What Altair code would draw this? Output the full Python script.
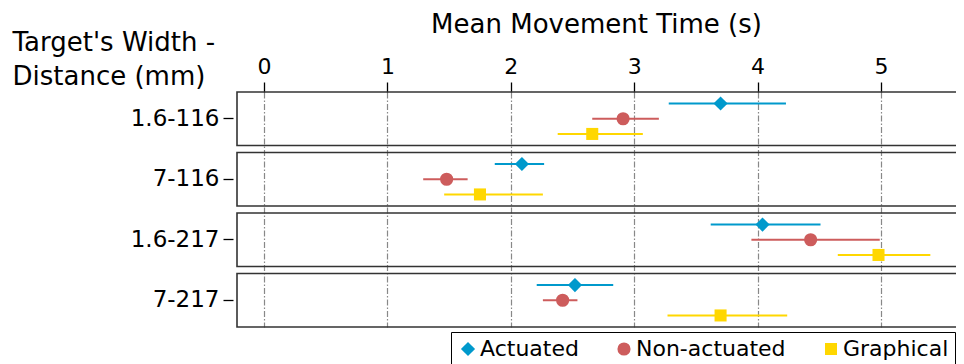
import altair as alt
import pandas as pd

groups = ["1.6-116", "7-116", "1.6-217", "7-217"]
series = ["Actuated", "Non-actuated", "Graphical"]
colors = ["#0099CC", "#CD5C5C", "#FFD700"]
shapes = ["diamond", "circle", "square"]
sizes = [200, 145, 200]

act_mean = [3.70, 2.09, 4.04, 2.52]
act_lo = [3.28, 1.87, 3.62, 2.21]
act_hi = [4.23, 2.27, 4.51, 2.83]

non_mean = [2.91, 1.48, 4.43, 2.42]
non_lo = [2.66, 1.29, 3.95, 2.26]
non_hi = [3.20, 1.65, 4.99, 2.54]

gra_mean = [2.66, 1.75, 4.98, 3.70]
gra_lo = [2.38, 1.46, 4.65, 3.27]
gra_hi = [3.07, 2.26, 5.40, 4.24]

x_ticks = [0, 1, 2, 3, 4, 5]

rows = []
for s, m, lo, hi in [
    ("Actuated", act_mean, act_lo, act_hi),
    ("Non-actuated", non_mean, non_lo, non_hi),
    ("Graphical", gra_mean, gra_lo, gra_hi),
]:
    for g, mv, l, h in zip(groups, m, lo, hi):
        rows.append({"group": g, "series": s, "mean": mv, "lo": l, "hi": h})
df = pd.DataFrame(rows)
box_df = pd.DataFrame({"group": groups})

FONT = "DejaVu Sans"

xscale = alt.Scale(domain=[-0.219, 5.608], nice=False, zero=False)
xaxis = alt.Axis(
    orient="top",
    values=x_ticks,
    format="d",
    title="Mean Movement Time (s)",
    titleFontSize=26,
    titleFontWeight="normal",
    titleColor="black",
    titleFont=FONT,
    titleX=359,
    titleY=-60,
    titleAlign="center",
    titleBaseline="alphabetic",
    labelFontSize=22,
    labelFont=FONT,
    labelColor="black",
    labelBaseline="alphabetic",
    labelPadding=9,
    tickSize=10,
    tickColor="black",
    tickWidth=1.3,
    domain=False,
    grid=True,
    gridColor="#888888",
    gridDash=[6, 2, 1.5, 2],
    gridWidth=1.2,
)

yscale = alt.Scale(domain=groups, paddingInner=0.116, paddingOuter=0)
yaxis = alt.Axis(
    orient="left",
    title=["Target's Width -", "Distance (mm)"],
    titleAngle=0,
    titleAlign="left",
    titleBaseline="alphabetic",
    titleX=-221,
    titleY=-42,
    titleFontSize=26,
    titleFontWeight="normal",
    titleFont=FONT,
    titleColor="black",
    titleLineHeight=34,
    labelFontSize=23,
    labelFont=FONT,
    labelColor="black",
    labelPadding=4,
    tickSize=10,
    tickColor="black",
    tickWidth=1.3,
    offset=4,
    domain=False,
    grid=False,
)

yoff = alt.YOffset(
    "series:N",
    scale=alt.Scale(domain=series, paddingInner=0, paddingOuter=0.26),
)

color = alt.Color(
    "series:N",
    scale=alt.Scale(domain=series, range=colors),
    legend=alt.Legend(
        title=None,
        orient="none",
        legendX=214,
        legendY=240,
        direction="horizontal",
        labelFontSize=22,
        labelFont=FONT,
        labelColor="black",
        symbolSize=190,
        labelOffset=1,
        columnPadding=34,
        padding=6,
        strokeColor="black",
        fillColor="white",
        symbolStrokeWidth=0,
    ),
)
shape = alt.Shape("series:N", scale=alt.Scale(domain=series, range=shapes))
size = alt.Size("series:N", scale=alt.Scale(domain=series, range=sizes), legend=None)

boxes = alt.Chart(box_df).mark_rect(
    fillOpacity=0, stroke="#333333", strokeWidth=1.6
).encode(
    y=alt.Y("group:N", scale=yscale, axis=yaxis, sort=groups),
    x=alt.value(0),
    x2=alt.value(780),
)

rules = alt.Chart(df).mark_rule(strokeWidth=2).encode(
    x=alt.X("lo:Q", scale=xscale, axis=xaxis),
    x2="hi:Q",
    y=alt.Y("group:N", scale=yscale, axis=yaxis, sort=groups),
    yOffset=yoff,
    color=color,
)

points = alt.Chart(df).mark_point(filled=True, opacity=1).encode(
    x=alt.X("mean:Q", scale=xscale, axis=xaxis),
    y=alt.Y("group:N", scale=yscale, axis=yaxis, sort=groups),
    yOffset=yoff,
    color=color,
    shape=shape,
    size=size,
)

chart = alt.layer(boxes, rules, points).properties(
    width=719,
    height=235,
    autosize=alt.AutoSizeParams(type="none"),
    padding={"left": 229, "top": 84, "right": 0, "bottom": 37},
    background="white",
).configure_view(strokeWidth=0)

chart.save("out.html", embed_options={"renderer": "svg", "actions": False})
